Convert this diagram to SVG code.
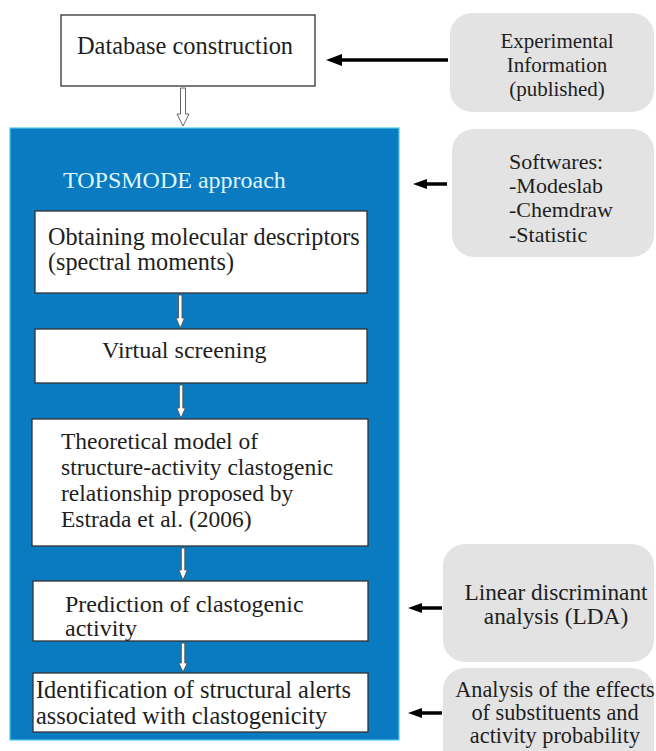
<svg xmlns="http://www.w3.org/2000/svg" width="656" height="751" viewBox="0 0 656 751">
<defs>
<style>
.t{font-family:"Liberation Serif","Times New Roman",serif;fill:#1e1e1e}
.box{fill:#fff;stroke:#333;stroke-width:1.3}
.gray{fill:#e3e3e3}
.arr{stroke:#000;stroke-width:3.5;fill:none}
.ha{fill:#fff;stroke:#555;stroke-width:0.9}
</style>
</defs>
<rect width="656" height="751" fill="#fff"/>
<g id="container">
<rect x="10" y="128" width="389" height="612" fill="#0a7bc0" stroke="#4ccbf0" stroke-width="1.2"/>
<text class="t" x="63" y="188" font-size="24" style="fill:#dff5ff">TOPSMODE approach</text>
</g>
<g id="db">
<rect class="box" x="61" y="15" width="254" height="71"/>
<text class="t" x="77" y="54" font-size="24.4">Database construction</text>
</g>
<g id="n1">
<rect class="box" x="35" y="211" width="332" height="82"/>
<text class="t" x="48" y="245" font-size="24.2">Obtaining molecular descriptors</text>
<text class="t" x="48" y="270" font-size="24.2">(spectral moments)</text>
</g>
<g id="n2">
<rect class="box" x="35" y="329" width="332" height="54"/>
<text class="t" x="102" y="358" font-size="24">Virtual screening</text>
</g>
<g id="n3">
<rect class="box" x="32" y="419" width="336" height="127"/>
<text class="t" x="61" y="449" font-size="23.5">Theoretical model of</text>
<text class="t" x="61" y="475" font-size="23.5">structure-activity clastogenic</text>
<text class="t" x="61" y="501" font-size="23.5">relationship proposed by</text>
<text class="t" x="61" y="527" font-size="23.5">Estrada et al. (2006)</text>
</g>
<g id="n4">
<rect class="box" x="33" y="581" width="335" height="60"/>
<text class="t" x="65" y="612" font-size="24">Prediction of clastogenic</text>
<text class="t" x="65" y="636" font-size="24">activity</text>
</g>
<g id="n5">
<rect class="box" x="33" y="673" width="335" height="59"/>
<text class="t" x="36" y="698" font-size="24.4">Identification of structural alerts</text>
<text class="t" x="36" y="724" font-size="24.4">associated with clastogenicity</text>
</g>
<g id="g1">
<rect class="gray" x="450" y="13" width="204" height="99" rx="22"/>
<text class="t" x="557" y="48" font-size="21" text-anchor="middle">Experimental</text>
<text class="t" x="557" y="72" font-size="21" text-anchor="middle">Information</text>
<text class="t" x="557" y="96" font-size="21" text-anchor="middle">(published)</text>
</g>
<g id="g2">
<rect class="gray" x="452" y="129" width="202" height="128" rx="22"/>
<text class="t" x="509" y="169" font-size="22">Softwares:</text>
<text class="t" x="509" y="193" font-size="22">-Modeslab</text>
<text class="t" x="509" y="217" font-size="22">-Chemdraw</text>
<text class="t" x="509" y="242" font-size="22">-Statistic</text>
</g>
<g id="g3">
<rect class="gray" x="443" y="544" width="211" height="118" rx="22"/>
<text class="t" x="556" y="600" font-size="23.3" text-anchor="middle">Linear discriminant</text>
<text class="t" x="556" y="624" font-size="23.3" text-anchor="middle">analysis (LDA)</text>
</g>
<g id="g4">
<rect class="gray" x="443" y="668" width="211" height="110" rx="22"/>
<text class="t" x="555" y="697" font-size="22.3" text-anchor="middle">Analysis of the effects</text>
<text class="t" x="555" y="720" font-size="22.3" text-anchor="middle">of substituents and</text>
<text class="t" x="555" y="743" font-size="22.3" text-anchor="middle">activity probability</text>
</g>
<g id="connectors">
<line class="arr" x1="340" y1="60" x2="448" y2="60"/>
<polygon points="326,60 342,54 342,66" fill="#000"/>
<line class="arr" x1="425" y1="184" x2="447" y2="184"/>
<polygon points="413,184 427,179 427,189" fill="#000"/>
<line class="arr" x1="420" y1="608" x2="442" y2="608"/>
<polygon points="408,608 422,603 422,613" fill="#000"/>
<line class="arr" x1="420" y1="713" x2="442" y2="713"/>
<polygon points="408,713 422,708 422,718" fill="#000"/>
<path class="ha" d="M180.5,88 H185.5 V114 H189 L183,126 L177,114 H180.5 Z"/>
<path class="ha" d="M178.5,295 H182 V318 H184.5 L180.3,328 L176,318 H178.5 Z"/>
<path class="ha" d="M179.3,385 H182.8 V408 H185.3 L181,418 L176.8,408 H179.3 Z"/>
<path class="ha" d="M181.3,548 H184.8 V570 H187.3 L183,580 L178.8,570 H181.3 Z"/>
<path class="ha" d="M181.3,643 H184.8 V663 H187.3 L183,672 L178.8,663 H181.3 Z"/>
</g>
</svg>
